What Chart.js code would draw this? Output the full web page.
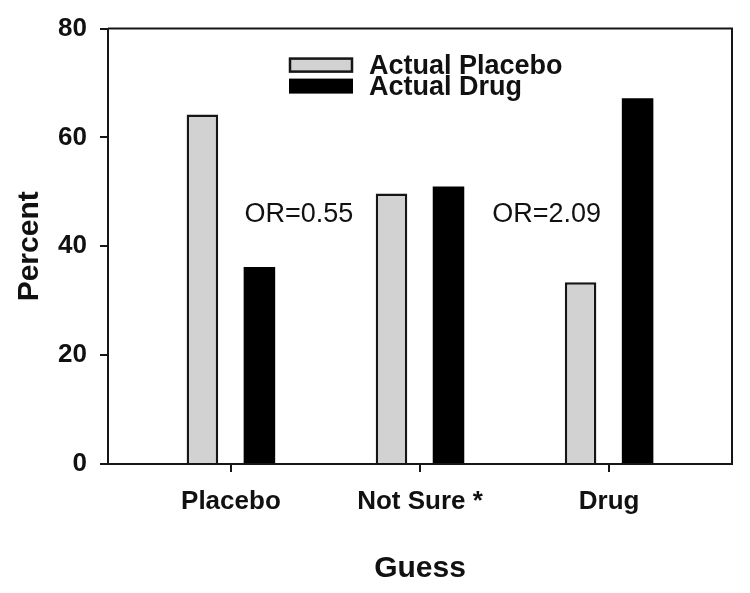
<!DOCTYPE html>
<html>
<head>
<meta charset="utf-8">
<title>Guess vs actual allocation</title>
<script src="https://cdn.jsdelivr.net/npm/chart.js@4.4.1/dist/chart.umd.min.js"></script>
<style>
  html, body { margin: 0; padding: 0; background: #fff; }
  #wrap { width: 750px; height: 593px; }
</style>
</head>
<body>
<div id="wrap"><canvas id="guessChart" width="750" height="593"></canvas></div>
<script>
// data
const categories = ['Placebo', 'Not Sure *', 'Drug'];
const actualPlacebo = [64.2, 49.7, 33.4];
const actualDrug = [36.2, 51.0, 67.2];
const yTicks = [0, 20, 40, 60, 80];
const oddsRatios = ['OR=0.55', 'OR=2.09'];

const INK = '#161616';
Chart.defaults.font.family = '"Liberation Sans", Arial, sans-serif';
Chart.defaults.color = '#111';

// frame on top and right of the plot + legend + OR labels
const extras = {
    id: 'extras',
    afterDraw(chart) {
        const { ctx, chartArea: a, scales } = chart;
        ctx.save();
        ctx.strokeStyle = INK;
        ctx.lineWidth = 2;
        ctx.beginPath();
        ctx.moveTo(a.left, a.top);
        ctx.lineTo(a.right, a.top);
        ctx.lineTo(a.right, a.bottom);
        ctx.stroke();

        // legend, stacked tight like the original
        const lx = a.left + 181, ly = a.top + 29;
        chart.data.datasets.forEach((ds, i) => {
            const y = ly + i * 21;
            ctx.fillStyle = ds.backgroundColor;
            ctx.fillRect(lx, y, 64, 15);
            if (ds.borderWidth) {
                ctx.lineWidth = 2.5;
                ctx.strokeStyle = ds.borderColor;
                ctx.strokeRect(lx + 1, y + 1, 62, 13);
            }
            ctx.fillStyle = '#111';
            ctx.font = 'bold 27px "Liberation Sans", Arial, sans-serif';
            ctx.textAlign = 'left';
            ctx.textBaseline = 'middle';
            ctx.fillText(ds.label, lx + 80, y + 9);
        });

        // odds ratio notes
        ctx.font = '27px "Liberation Sans", Arial, sans-serif';
        ctx.textAlign = 'center';
        const spots = [0.36, 1.67];
        oddsRatios.forEach((t, i) => {
            ctx.fillText(t, scales.x.getPixelForValue(spots[i]), scales.y.getPixelForValue(45.9));
        });
        ctx.restore();
    }
};

const ctx = document.getElementById('guessChart').getContext('2d');
new Chart(ctx, {
    type: 'bar',
    data: {
        datasets: [{
                label: 'Actual Placebo',
                data: actualPlacebo.map((v, i) => ({ x: i, y: v })),
                backgroundColor: '#d2d2d2',
                borderColor: INK,
                borderWidth: 2.5
            }, {
                label: 'Actual Drug',
                data: actualDrug.map((v, i) => ({ x: i, y: v })),
                backgroundColor: '#000000',
                borderWidth: 0
            }]
    },
    options: {
        responsive: false,
        animation: false,
        categoryPercentage: 0.603,
        barPercentage: 0.553,
        layout: { padding: { top: 27, right: 18, bottom: 0, left: 0 } },
        plugins: {
            legend: { display: false },
            tooltip: { enabled: false }
        },
        scales: {
            x: {
                type: 'linear',
                min: -0.65,
                max: 2.65,
                offset: false,
                afterBuildTicks: (axis) => {
                    axis.ticks = categories.map((c, i) => ({ value: i }));
                },
                afterFit: (axis) => { axis.height = 129; },
                grid: { display: true, offset: false, drawOnChartArea: false, tickLength: 8, color: INK, lineWidth: 2 },
                border: { display: true, color: INK, width: 2 },
                ticks: {
                    callback: (v) => categories[v] ?? '',
                    font: { size: 26, weight: 'bold' },
                    padding: 14,
                    maxRotation: 0,
                    autoSkip: false
                },
                title: {
                    display: true,
                    text: 'Guess',
                    font: { size: 30, weight: 'bold' },
                    padding: { top: 0, bottom: 6 }
                }
            },
            y: {
                min: 0,
                max: 80,
                afterBuildTicks: (axis) => {
                    axis.ticks = yTicks.map(v => ({ value: v }));
                },
                afterFit: (axis) => { axis.width = 108; },
                grid: { display: true, drawOnChartArea: false, tickLength: 8, color: INK, lineWidth: 2 },
                border: { display: true, color: INK, width: 2 },
                ticks: {
                    font: { size: 26, weight: 'bold' },
                    padding: 13
                },
                title: {
                    display: true,
                    text: 'Percent',
                    font: { size: 30, weight: 'bold' },
                    padding: { top: 12, bottom: 0 }
                }
            }
        }
    },
    plugins: [extras]
});
</script>
</body>
</html>
